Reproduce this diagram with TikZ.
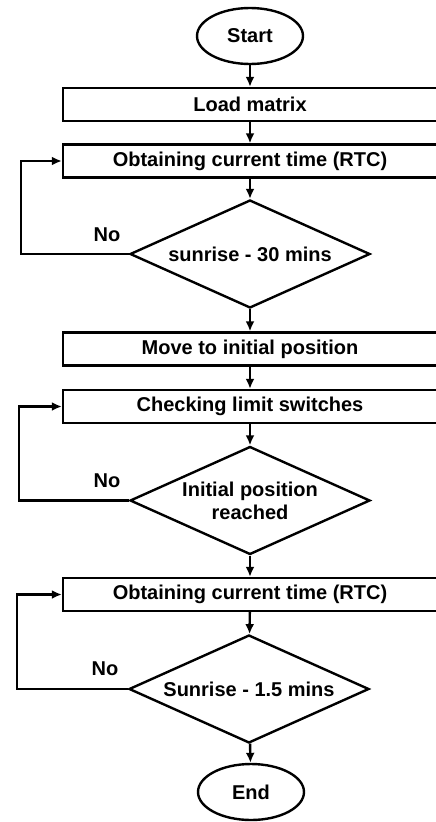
\documentclass[tikz,border=0pt]{standalone}
\usepackage{fontspec}
\setmainfont{Liberation Sans}
\usetikzlibrary{shapes.geometric, arrows.meta}

\begin{document}
\begin{tikzpicture}[x=1pt, y=-1pt, line width=2.4pt,
  font=\bfseries\fontsize{20}{23}\selectfont,
  terminal/.style={draw, ellipse, minimum width=106pt, minimum height=56pt, inner sep=0pt},
  process/.style={draw, rectangle, minimum width=374pt, minimum height=33pt, inner sep=0pt},
  decision/.style={draw, diamond, aspect=2.2, minimum width=240pt, minimum height=108pt, inner sep=0pt, align=center},
  flow/.style={-{Latex[length=10pt,width=9pt]}}]
\useasboundingbox (0,0) rectangle (436,822);
% Start and first steps
\node[terminal] (start) at (250,36) {Start};
\node[process] (load) at (250,104.5) {Load matrix};
\node[process] (time1) at (250,161) {Obtaining current time (RTC)};
\draw[flow] (start) -- (load);
\draw[flow] (load) -- (time1);
% First check: loop back on No
\node[decision] (sun1) at (250,254) {sunrise - 30 mins};
\draw[flow] (time1) -- (sun1);
\coordinate (back1) at (21,254);
\draw[flow] (sun1.west) -- (back1) |- (time1.west);
\node (no1) at (107,235) {No};
% Move to initial position
\node[process] (move) at (250,349) {Move to initial position};
\node[process] (limit) at (250,406.5) {Checking limit switches};
\draw[flow] (sun1) -- (move);
\draw[flow] (move) -- (limit);
% Second check
\node[decision] (init) at (250,500.5) {Initial position\\reached};
\draw[flow] (limit) -- (init);
\coordinate (back2) at (19,500.5);
\draw[flow] (init.west) -- (back2) |- (limit.west);
\node (no2) at (107,481) {No};
% Wait for sunrise
\node[process] (time2) at (250,594.5) {Obtaining current time (RTC)};
\draw[flow] (init) -- (time2);
\node[decision] (sun2) at (249,689) {Sunrise - 1.5 mins};
\draw[flow] (time2) -- (sun2);
\coordinate (back3) at (17,689);
\draw[flow] (sun2.west) -- (back3) |- (time2.west);
\node (no3) at (105,669) {No};
% End
\node[terminal] (end) at (251,792) {End};
\draw[flow] (sun2) -- (end);
\end{tikzpicture}
\end{document}
